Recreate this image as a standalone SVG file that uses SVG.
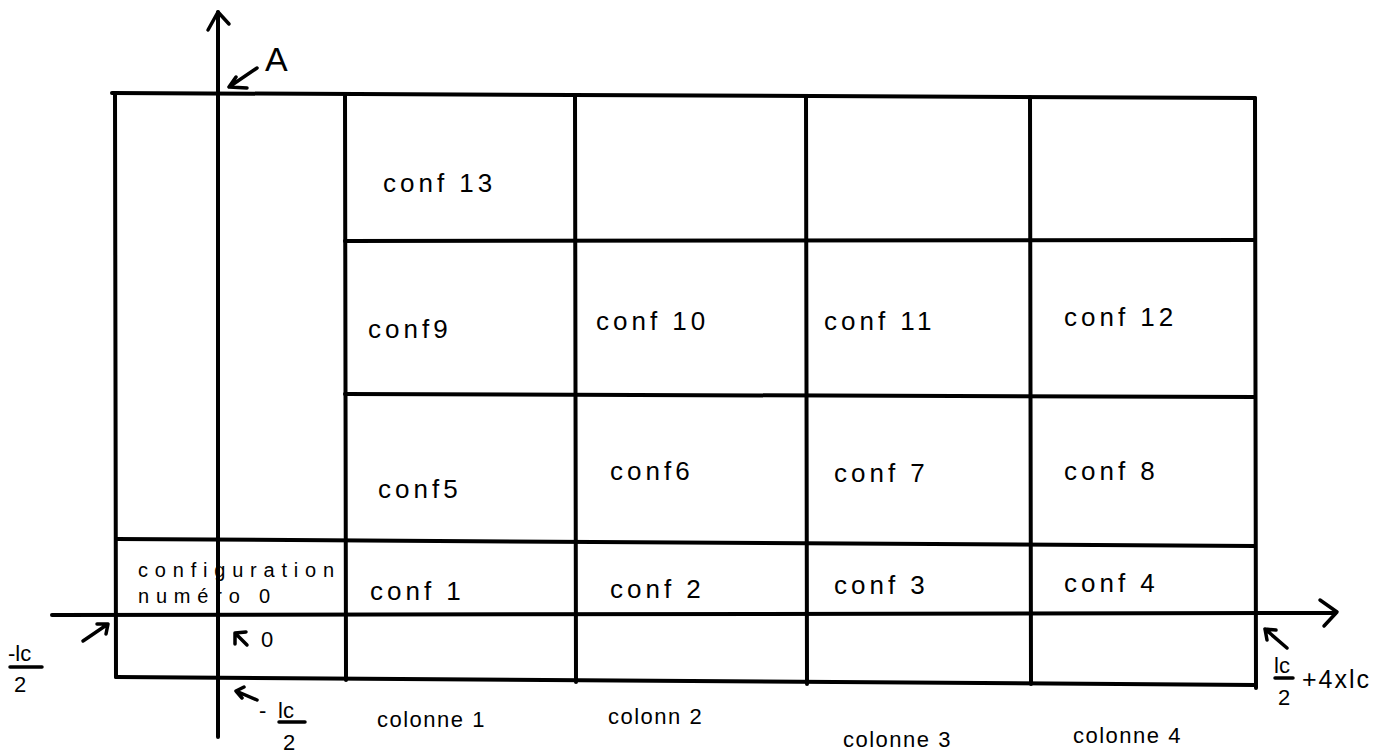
<svg xmlns="http://www.w3.org/2000/svg" width="1395" height="753" viewBox="0 0 1395 753">
<style>
.ln{stroke:#000;stroke-width:4;fill:none;stroke-linecap:round;stroke-linejoin:round}
.ar{stroke:#000;stroke-width:3.5;fill:none;stroke-linecap:round;stroke-linejoin:round}
.t{font-family:"Liberation Sans",Arial,sans-serif;font-size:26px;letter-spacing:4px;fill:#000}
.c{font-family:"Liberation Sans",Arial,sans-serif;font-size:22px;letter-spacing:1.5px;fill:#000}
.s{font-family:"Liberation Sans",Arial,sans-serif;font-size:20px;letter-spacing:6.8px;fill:#000}
.m{font-family:"Liberation Sans",Arial,sans-serif;font-size:22px;fill:#000}
.big{font-family:"Liberation Sans",Arial,sans-serif;font-size:34px;fill:#000}
.r{font-family:"Liberation Sans",Arial,sans-serif;font-size:25px;letter-spacing:2px;fill:#000}
</style>
<rect width="1395" height="753" fill="#fff"/>
<g id="grid">
<path class="ln" d="M112 93 L1255 98"/>
<path class="ln" d="M115 93 L116 677"/>
<path class="ln" d="M345 94 L346 680"/>
<path class="ln" d="M575 96 L576 682"/>
<path class="ln" d="M806 97 L807 684"/>
<path class="ln" d="M1030 97 L1031 684"/>
<path class="ln" d="M1255 98 L1256 688"/>
<path class="ln" d="M345 241 L1255 240"/>
<path class="ln" d="M345 394 L1255 397"/>
<path class="ln" d="M116 539 L1255 546"/>
<path class="ln" d="M116 677 L1255 685"/>
</g>
<g id="connectors">
<path class="ln" d="M218 737 L218 12"/>
<path class="ar" d="M208 30 L218 12 L229 24"/>
<path class="ln" d="M52 615 L1335 613"/>
<path class="ar" d="M1320 600 L1337 612 L1324 626"/>
<path class="ar" d="M257 68 L229 87 M229 87 L247 88 M229 87 L236 77"/>
<path class="ar" d="M83 641 L108 624 M108 624 L97 624 M108 624 L106 634"/>
<path class="ar" d="M247 645 L235 633 M235 633 L235 644 M235 633 L246 632"/>
<path class="ar" d="M257 700 L236 691 M236 691 L242 698 M236 691 L244 687"/>
<path class="ar" d="M1287 648 L1265 629 M1265 629 L1267 640 M1265 629 L1276 630"/>
</g>
<g id="label-A"><text class="big" x="265" y="71">A</text></g>
<g id="label-origin"><text class="m" x="261" y="647">0</text></g>
<g id="label-left">
<text class="m" x="8" y="661">-lc</text>
<path class="ar" d="M10 667 L42 667"/>
<text class="m" x="14" y="692">2</text>
</g>
<g id="label-bottom">
<text class="m" x="259" y="718">-</text>
<text class="m" x="278" y="718">lc</text>
<path class="ar" d="M279 722 L305 722"/>
<text class="m" x="283" y="750">2</text>
</g>
<g id="label-right">
<text class="m" x="1274" y="673">lc</text>
<path class="ar" d="M1275 678 L1293 678"/>
<text class="m" x="1278" y="705">2</text>
<text class="r" x="1302" y="688">+4xlc</text>
</g>
<g id="conf0"><text class="s" x="138" y="577">configuration</text><text class="s" x="138" y="603">numéro 0</text></g>
<g id="conf1"><text class="t" x="370" y="600">conf 1</text></g>
<g id="conf2"><text class="t" x="610" y="598">conf 2</text></g>
<g id="conf3"><text class="t" x="834" y="594">conf 3</text></g>
<g id="conf4"><text class="t" x="1064" y="592">conf 4</text></g>
<g id="conf5"><text class="t" x="378" y="498">conf5</text></g>
<g id="conf6"><text class="t" x="610" y="480">conf6</text></g>
<g id="conf7"><text class="t" x="834" y="482">conf 7</text></g>
<g id="conf8"><text class="t" x="1064" y="480">conf 8</text></g>
<g id="conf9"><text class="t" x="368" y="338">conf9</text></g>
<g id="conf10"><text class="t" x="596" y="330">conf 10</text></g>
<g id="conf11"><text class="t" x="824" y="330">conf 11</text></g>
<g id="conf12"><text class="t" x="1064" y="326">conf 12</text></g>
<g id="conf13"><text class="t" x="383" y="192">conf 13</text></g>
<g id="colonnes">
<text class="c" x="377" y="727">colonne 1</text>
<text class="c" x="608" y="724">colonn 2</text>
<text class="c" x="843" y="747">colonne 3</text>
<text class="c" x="1073" y="743">colonne 4</text>
</g>
</svg>
